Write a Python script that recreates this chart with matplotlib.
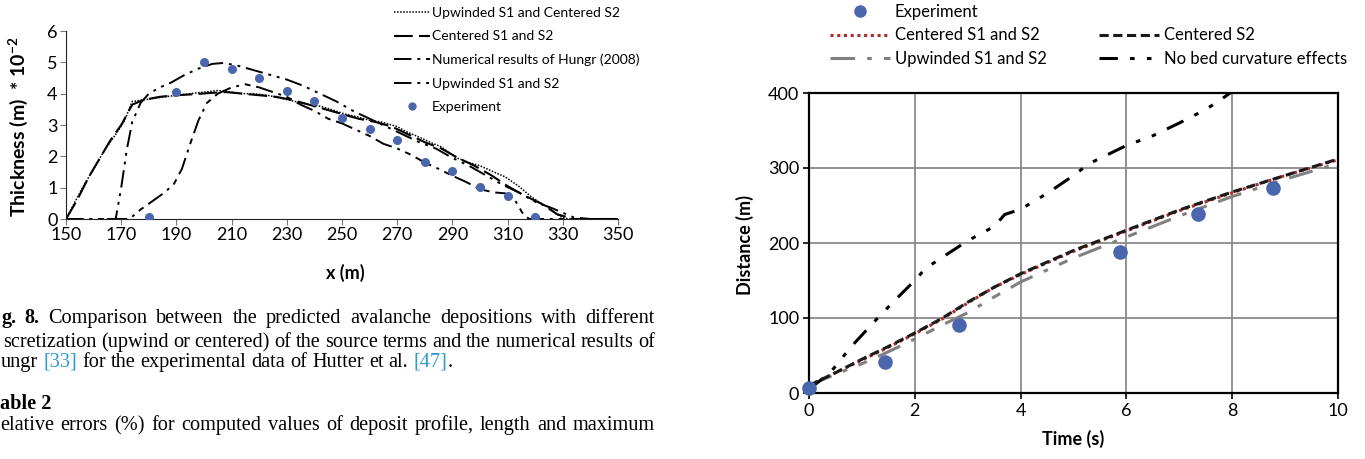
import matplotlib
matplotlib.use("Agg")
import matplotlib.pyplot as plt
from matplotlib.lines import Line2D

plt.rcParams['font.family'] = ['Lato', 'DejaVu Sans']
plt.rcParams['mathtext.fontset'] = 'custom'
plt.rcParams['mathtext.rm'] = 'Lato'
plt.rcParams['mathtext.bf'] = 'Lato:bold'

W, H = 1365, 459

# ---- left chart: deposit thickness (x10^-2 m) vs x (m)
x_upc = [150, 153, 156, 160, 164, 168, 171, 174, 178, 182, 186, 190, 195, 200, 205, 210, 214, 218, 223,
         228, 233, 238, 242, 246, 251, 256, 260, 264, 266, 270, 273, 277, 282, 286, 291, 296, 300, 305,
         309, 314, 318, 322, 325, 329, 332, 340, 350]
h_upc = [0, 0.5, 1.0, 1.6, 2.2, 2.7, 3.1, 3.75, 3.8, 3.85, 3.9, 3.95, 4.0, 4.05, 4.1, 4.05, 4.0, 4.0, 3.95,
         3.85, 3.75, 3.65, 3.6, 3.5, 3.35, 3.25, 3.15, 3.1, 3.05, 2.95, 2.8, 2.65, 2.45, 2.3, 1.97, 1.8, 1.7,
         1.5, 1.35, 1.05, 0.75, 0.5, 0.35, 0.08, 0, 0, 0]

x_cen = [150, 154, 158, 162, 166, 170, 174, 178, 184, 190, 196, 202, 208, 214, 220, 226, 232, 238, 244, 250,
         256, 262, 268, 274, 280, 286, 292, 298, 304, 310, 316, 322, 328, 334, 350]
h_cen = [0, 0.6, 1.3, 1.9, 2.5, 3.0, 3.65, 3.8, 3.9, 3.95, 3.98, 4.02, 4.05, 4.0, 3.95, 3.9, 3.8, 3.65, 3.5,
         3.35, 3.2, 3.1, 2.95, 2.7, 2.45, 2.25, 1.95, 1.7, 1.4, 1.05, 0.75, 0.5, 0.15, 0, 0]

x_hun = [150, 173, 177, 181, 185, 189, 192, 195, 198, 201, 205, 210, 215, 220, 225, 230, 235, 240, 245, 250,
         255, 260, 265, 270, 275, 280, 285, 290, 295, 300, 305, 309, 312, 314, 316, 318, 330, 350]
h_hun = [0, 0, 0.3, 0.55, 0.8, 1.1, 1.6, 2.4, 3.15, 3.7, 4.0, 4.2, 4.3, 4.2, 4.05, 3.9, 3.65, 3.45, 3.2, 3.05,
         2.85, 2.65, 2.4, 2.25, 2.05, 1.8, 1.6, 1.38, 1.18, 0.95, 0.85, 0.82, 0.7, 0.4, 0.1, 0, 0, 0]

x_upw = [150, 168, 170, 172, 174, 177, 180, 184, 188, 193, 198, 203, 207, 212, 218, 224, 230, 236, 242, 248,
         254, 260, 266, 272, 278, 284, 290, 296, 302, 308, 314, 320, 326, 330, 334, 340, 350]
h_upw = [0, 0, 1.0, 2.2, 3.1, 3.7, 4.0, 4.2, 4.35, 4.6, 4.8, 4.95, 4.98, 4.9, 4.75, 4.6, 4.45, 4.25, 4.0, 3.75,
         3.45, 3.2, 2.95, 2.7, 2.45, 2.25, 1.95, 1.7, 1.4, 1.1, 0.85, 0.55, 0.35, 0.2, 0.05, 0, 0]

x_exp = [180, 190, 200, 210, 220, 230, 240, 250, 260, 270, 280, 290, 300, 310, 320]
h_exp = [0.05, 4.05, 5.02, 4.8, 4.5, 4.1, 3.77, 3.22, 2.86, 2.52, 1.83, 1.52, 1.02, 0.72, 0.05]

# ---- right chart: front distance (m) vs time (s)
t_num = [0, 0.5, 1, 1.5, 2, 2.5, 3, 3.5, 4, 5, 6, 7, 8, 9, 10]
d_cen12 = [10, 27, 44, 61, 79, 98, 120, 141, 158, 189, 216, 243, 267, 290, 311]
d_cen2 = [10, 27, 45, 62, 80, 99, 121, 141, 159, 190, 217, 244, 268, 290, 312]
d_upw = [10, 25, 39, 55, 72, 90, 107, 128, 148, 180, 208, 236, 262, 285, 306]

t_nobed = [0, 0.4, 0.8, 1.3, 1.6, 2.0, 2.2, 2.5, 3.0, 3.5, 3.7, 4.0, 4.5, 5.0, 5.3, 6.0, 6.5, 7.0,
           7.5, 7.8, 8.0]
d_nobed = [5, 27, 62, 100, 122, 150, 166, 180, 203, 222, 238, 245, 266, 290, 306, 330, 343, 360,
           378, 392, 402]

t_exp = [0, 1.44, 2.84, 5.88, 7.35, 8.78]
d_exp = [7, 41, 91, 188, 239, 273]

blue = '#4a67ae'

fig = plt.figure(figsize=(W / 100, H / 100), dpi=100)


def box(l, t, r, b):
    return [l / W, 1 - b / H, (r - l) / W, (b - t) / H]


# left chart
ax1 = fig.add_axes(box(66, 31, 618, 219))
ax1.plot(x_upc, h_upc, color='black', lw=1.1, ls=(0, (1, 1)))
ax1.plot(x_cen, h_cen, color='black', lw=1.5, ls=(0, (9, 3)))
ax1.plot(x_hun, h_hun, color='black', lw=1.4, ls=(0, (9, 3, 1.5, 3, 3, 3)))
ax1.plot(x_upw, h_upw, color='black', lw=1.4, ls=(0, (9, 3, 1.5, 3, 1.5, 3)))
ax1.plot(x_exp, h_exp, 'o', color=blue, ms=5.5, zorder=5)
ax1.set_xlim(150, 350)
ax1.set_ylim(0, 6)
ax1.set_xticks(range(150, 351, 20))
ax1.set_yticks(range(0, 7))
for s in ['top', 'right']:
    ax1.spines[s].set_visible(False)
for s in ['left', 'bottom']:
    ax1.spines[s].set_color('#222222')
ax1.tick_params(length=4, color='#777777', labelsize=13, pad=2)

h1 = [Line2D([], [], color='black', lw=1.1, ls=(0, (1, 1))),
      Line2D([], [], color='black', lw=1.5, ls=(0, (9, 3))),
      Line2D([], [], color='black', lw=1.4, ls=(0, (9, 3, 1.5, 3, 3, 3))),
      Line2D([], [], color='black', lw=1.4, ls=(0, (9, 3, 1.5, 3, 1.5, 3))),
      Line2D([], [], ls='none', marker='o', color=blue, ms=5)]
l1 = ['Upwinded S1 and Centered S2', 'Centered S1 and S2', 'Numerical results of Hungr (2008)',
      'Upwinded S1 and S2', 'Experiment']
fig.legend(h1, l1, loc='upper left', bbox_to_anchor=(394 / W, 1 - 7 / H), frameon=False,
           fontsize=10, handlelength=2.6, handletextpad=0.15, labelspacing=0.82,
           borderpad=0, borderaxespad=0)

fig.text(345 / W, 1 - 273 / H, 'x (m)', ha='center', va='center', fontsize=13, fontweight='bold')
fig.text(18 / W, 1 - 127 / H, r'Thickness (m)  * 10$^{\mathbf{-2}}$', rotation=90, ha='center',
         va='center', fontsize=14, fontweight='bold')

# right chart
ax2 = fig.add_axes(box(809, 93, 1338, 393))
ax2.plot(t_num, d_cen12, color='#b02a2a', lw=2.2, ls=(0, (1, 1.2)), zorder=3)
ax2.plot(t_num, d_cen2, color='#1a1a1a', lw=2.2, ls=(0, (3, 1.5)), zorder=4)
ax2.plot(t_num, d_upw, color='#808080', lw=2.2, ls=(0, (8, 4, 1.5, 4, 3, 4)), zorder=3)
ax2.plot(t_nobed, d_nobed, color='black', lw=2.2, ls=(0, (6, 4, 1.5, 4, 1.5, 4)), zorder=3)
ax2.plot(t_exp, d_exp, 'o', color=blue, ms=9.5, zorder=5, clip_on=False)
ax2.set_xlim(0, 10)
ax2.set_ylim(0, 400)
ax2.set_xticks(range(0, 11, 2))
ax2.set_yticks(range(0, 401, 100))
ax2.grid(True, color='#8a8a8a', lw=1.3)
ax2.set_axisbelow(True)
for s in ax2.spines.values():
    s.set_color('black')
    s.set_linewidth(1.6)
ax2.tick_params(length=4, width=1.2, labelsize=13, pad=3)
ax2.set_xlabel('Time (s)', fontsize=13, fontweight='bold', labelpad=8)
fig.text(745 / W, 1 - 245 / H, 'Distance (m)', rotation=90, ha='center', va='center',
         fontsize=13, fontweight='bold')

h2 = [Line2D([], [], ls='none', marker='o', color=blue, ms=8),
      Line2D([], [], color='#b02a2a', lw=2.2, ls=(0, (1, 1.2))),
      Line2D([], [], color='#808080', lw=2.2, ls=(0, (8, 4, 1.5, 4, 3, 4))),
      Line2D([], [], ls='none'),
      Line2D([], [], color='#1a1a1a', lw=2.2, ls=(0, (3, 1.5))),
      Line2D([], [], color='black', lw=2.2, ls=(0, (6, 4, 1.5, 4, 1.5, 4)))]
l2 = ['Experiment', 'Centered S1 and S2', 'Upwinded S1 and S2', ' ', 'Centered S2', 'No bed curvature effects']
fig.legend(h2, l2, loc='upper left', bbox_to_anchor=(830 / W, 1 - 4 / H), frameon=False, ncol=2,
           fontsize=12, handlelength=3.6, handletextpad=0.3, labelspacing=0.45, columnspacing=3.1,
           borderpad=0, borderaxespad=0)

# caption text below the left chart (justified, serif)
renderer = fig.canvas.get_renderer()
serif = ['Liberation Serif', 'DejaVu Serif']
cap_size = 14.6
link = '#2f9ad0'


def put_line(tokens, y, x0, x1=None):
    # tokens: (text, bold, color, space_before)
    objs = []
    for txt, bold, col, sp in tokens:
        t = fig.text(0, 0, txt, family=serif, fontsize=cap_size, color=col,
                     fontweight='bold' if bold else 'normal', va='baseline', ha='left',
                     transform=None)
        objs.append((t, sp))
    widths = [t.get_window_extent(renderer).width for t, _ in objs]
    nsp = sum(1 for _, sp in objs if sp)
    if x1 is None or nsp == 0:
        gap = cap_size * 0.25 * 100 / 72
    else:
        gap = max(2.0, (x1 - x0 - sum(widths)) / nsp)
    x = x0
    for (t, sp), w in zip(objs, widths):
        if sp:
            x += gap
        t.set_position((x, H - y))
        x += w


def words(s, bold=False, col='black'):
    return [(w, bold, col, i > 0) for i, w in enumerate(s.split())]


line1 = [('g.', True, 'black', False), ('8.', True, 'black', True)] + \
    [(w, False, 'black', True) for w in 'Comparison between the predicted avalanche depositions with different'.split()]
put_line(line1, 323, 1, 655)
put_line(words('scretization (upwind or centered) of the source terms and the numerical results of'), 347, 3, 655)
line3 = [('ungr', False, 'black', False), ('[33]', False, link, True)] + \
    [(w, False, 'black', True) for w in 'for the experimental data of Hutter et al.'.split()] + \
    [('[47]', False, link, True), ('.', False, 'black', False)]
put_line(line3, 367, 1)
put_line([('able 2', True, 'black', False)], 409, 0)
put_line(words('elative errors (%) for computed values of deposit profile, length and maximum'), 430, 0, 655)

fig.savefig('out.png', dpi=100)
